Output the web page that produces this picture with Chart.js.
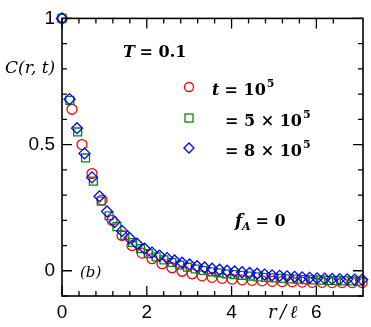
<!DOCTYPE html>
<html>
<head>
<meta charset="utf-8">
<script src="https://cdn.jsdelivr.net/npm/chart.js@4/dist/chart.umd.min.js"></script>
<style>
  body { margin: 0; background: #fff; }
  #wrap { width: 371px; height: 327px; }
</style>
</head>
<body>
<div id="wrap"><canvas id="chart" width="371" height="327"></canvas></div>
<script>
// r / l positions and C(r,t) for each time
const rRed = [0, 0.236, 0.472, 0.708, 0.944, 1.18, 1.416, 1.652, 1.888, 2.124, 2.36, 2.596, 2.832, 3.068, 3.304, 3.54, 3.776, 4.012, 4.248, 4.484, 4.72, 4.956, 5.192, 5.428, 5.664, 5.9, 6.136, 6.372, 6.608, 6.844, 7.08];
const cRed = [1.0, 0.64, 0.50, 0.385, 0.28, 0.20, 0.14, 0.10, 0.07, 0.048, 0.028, 0.012, -0.002, -0.012, -0.02, -0.026, -0.03, -0.033, -0.036, -0.038, -0.04, -0.042, -0.043, -0.044, -0.045, -0.046, -0.046, -0.047, -0.047, -0.047, -0.047];

const rGreen = [0, 0.185, 0.37, 0.555, 0.74, 0.925, 1.11, 1.295, 1.48, 1.665, 1.85, 2.035, 2.22, 2.405, 2.59, 2.775, 2.96, 3.145, 3.33, 3.515, 3.7, 3.885, 4.07, 4.255, 4.44, 4.625, 4.81, 4.995, 5.18, 5.365, 5.55, 5.735, 5.92, 6.105, 6.29, 6.475, 6.66, 6.845, 7.03];
const cGreen = [1.0, 0.675, 0.55, 0.447, 0.355, 0.276, 0.218, 0.175, 0.14, 0.112, 0.088, 0.068, 0.055, 0.043, 0.033, 0.022, 0.014, 0.007, 0.001, -0.004, -0.008, -0.012, -0.015, -0.018, -0.021, -0.024, -0.026, -0.028, -0.03, -0.032, -0.033, -0.035, -0.036, -0.037, -0.038, -0.039, -0.04, -0.04, -0.041];

const rBlue = [0, 0.177, 0.354, 0.531, 0.708, 0.885, 1.062, 1.239, 1.416, 1.593, 1.77, 1.947, 2.124, 2.301, 2.478, 2.655, 2.832, 3.009, 3.186, 3.363, 3.54, 3.717, 3.894, 4.071, 4.248, 4.425, 4.602, 4.779, 4.956, 5.133, 5.31, 5.487, 5.664, 5.841, 6.018, 6.195, 6.372, 6.549, 6.726, 6.903, 7.08];
const cBlue = [1.0, 0.68, 0.565, 0.465, 0.37, 0.295, 0.235, 0.193, 0.158, 0.13, 0.107, 0.088, 0.072, 0.06, 0.05, 0.041, 0.032, 0.025, 0.018, 0.013, 0.008, 0.004, 0.0, -0.003, -0.006, -0.009, -0.012, -0.015, -0.018, -0.02, -0.022, -0.024, -0.026, -0.028, -0.03, -0.031, -0.032, -0.033, -0.034, -0.035, -0.035];

// labelled ticks
const xTickLabels = [0, 2, 4, 6];
const yTickLabels = [0, 0.5, 1];

const RED = '#ff0000', GREEN = '#008c00', BLUE = '#0000ff';
const SERIF = '"DejaVu Serif"';
const toPts = (xs, ys) => xs.map((x, i) => ({ x: x, y: ys[i] }));
const isLabelled = (list, v) => list.some(t => Math.abs(t - v) < 1e-6);

// frame, inward ticks on all four sides, annotations
const framePlugin = {
    id: 'frame',
    afterDraw(chart) {
        const ctx = chart.ctx;
        const a = chart.chartArea;
        const xs = chart.scales.x, ys = chart.scales.y;
        ctx.save();
        ctx.strokeStyle = '#000';
        ctx.lineWidth = 1.6;
        ctx.strokeRect(a.left, a.top, a.right - a.left, a.bottom - a.top);
        ctx.lineWidth = 1.3;
        ctx.beginPath();
        xs.ticks.forEach(t => {
            if (Math.abs(t.value / 0.4 - Math.round(t.value / 0.4)) > 1e-6) return;
            const px = xs.getPixelForValue(t.value);
            const len = isLabelled(xTickLabels, t.value) ? 10 : 5;
            ctx.moveTo(px, a.bottom); ctx.lineTo(px, a.bottom - len);
            ctx.moveTo(px, a.top); ctx.lineTo(px, a.top + len);
        });
        ys.ticks.forEach(t => {
            const py = ys.getPixelForValue(t.value);
            const len = isLabelled(yTickLabels, t.value) ? 10 : 5;
            ctx.moveTo(a.left, py); ctx.lineTo(a.left + len, py);
            ctx.moveTo(a.right, py); ctx.lineTo(a.right - len, py);
        });
        ctx.stroke();

        // annotations
        ctx.fillStyle = '#000';
        ctx.textBaseline = 'middle';
        ctx.font = 'italic 17px ' + SERIF;
        ctx.fillText('C(r, t)', 5, 69);
        ctx.font = 'italic 18px ' + SERIF;
        ctx.fillText('r\u2009/\u2009ℓ', 268, 313);
        ctx.font = 'italic 15px ' + SERIF;
        ctx.fillText('(b)', 80, 273);
        ctx.font = 'bold italic 16px ' + SERIF;
        ctx.fillText('T', 123, 53);
        ctx.font = 'bold 16px ' + SERIF;
        ctx.fillText(' = 0.1', 134, 53);
        ctx.font = 'bold italic 17px ' + SERIF;
        ctx.fillText('f', 235, 222);
        ctx.font = 'bold italic 11px ' + SERIF;
        ctx.fillText('A', 242, 227);
        ctx.font = 'bold 16px ' + SERIF;
        ctx.fillText(' = 0', 250, 222);

        // legend rows
        const sup = (txt, x, y) => {
            ctx.font = 'bold 16px ' + SERIF;
            ctx.fillText(txt, x, y);
            const w = ctx.measureText(txt).width;
            ctx.font = 'bold 11px ' + SERIF;
            ctx.fillText('5', x + w + 1, y - 7);
        };
        ctx.font = 'bold italic 16px ' + SERIF;
        ctx.fillText('t', 212, 91);
        sup(' = 10', 219, 91);
        sup('= 5 × 10', 225, 122);
        sup('= 8 × 10', 225, 152);

        ctx.lineWidth = 1.3;
        ctx.strokeStyle = RED;
        ctx.beginPath(); ctx.arc(189, 87, 4.5, 0, Math.PI * 2); ctx.stroke();
        ctx.strokeStyle = GREEN;
        ctx.strokeRect(185, 114, 8, 8);
        ctx.strokeStyle = BLUE;
        ctx.beginPath();
        ctx.moveTo(189, 143); ctx.lineTo(194, 148); ctx.lineTo(189, 153); ctx.lineTo(184, 148);
        ctx.closePath(); ctx.stroke();
        ctx.restore();
    }
};

const ctx = document.getElementById('chart').getContext('2d');
new Chart(ctx, {
    type: 'scatter',
    data: {
        datasets: [
            { label: 't = 10^5', data: toPts(rRed, cRed), pointStyle: 'circle', pointRadius: 5, borderColor: RED, backgroundColor: 'rgba(0,0,0,0)', pointBorderWidth: 1.3, order: 2, clip: false },
            { label: '= 5 x 10^5', data: toPts(rGreen, cGreen), pointStyle: 'rect', pointRadius: 5.6, borderColor: GREEN, backgroundColor: 'rgba(0,0,0,0)', pointBorderWidth: 1.3, order: 1, clip: false },
            { label: '= 8 x 10^5', data: toPts(rBlue, cBlue), pointStyle: 'rectRot', pointRadius: 5.5, borderColor: BLUE, backgroundColor: 'rgba(0,0,0,0)', pointBorderWidth: 1.3, order: 0, clip: false }
        ]
    },
    options: {
        responsive: false,
        animation: false,
        layout: { padding: { top: 13, right: 8, left: 0, bottom: 0 } },
        plugins: { legend: { display: false }, tooltip: { enabled: false } },
        scales: {
            x: {
                type: 'linear',
                min: 0, max: 7.1,
                afterFit: s => { s.height = 31; },
                grid: { display: false, drawTicks: false },
                border: { display: false },
                ticks: {
                    stepSize: 0.4, autoSkip: false, maxRotation: 0, padding: 5,
                    color: '#000', font: { family: 'Liberation Sans', size: 19 },
                    callback: v => isLabelled(xTickLabels, v) ? String(Math.round(v)) : ''
                }
            },
            y: {
                type: 'linear',
                min: -0.1, max: 1,
                afterFit: s => { s.width = 62; },
                grid: { display: false, drawTicks: false },
                border: { display: false },
                ticks: {
                    stepSize: 0.1, autoSkip: false, padding: 7,
                    color: '#000', font: { family: 'Liberation Sans', size: 19 },
                    callback: v => isLabelled(yTickLabels, v) ? String(Math.round(v * 10) / 10) : ''
                }
            }
        }
    },
    plugins: [framePlugin]
});
</script>
</body>
</html>
